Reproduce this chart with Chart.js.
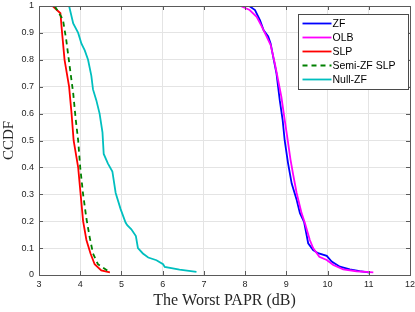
<!DOCTYPE html>
<html>
<head>
<meta charset="utf-8">
<script src="https://cdn.jsdelivr.net/npm/chart.js@4.4.1/dist/chart.umd.min.js"></script>
<style>
  html, body { margin: 0; padding: 0; background: #ffffff; }
  #wrap { width: 415px; height: 312px; }
</style>
</head>
<body>
<div id="wrap"><canvas id="grafico"></canvas></div>
<script>
// series (x = worst PAPR in dB, y = CCDF)
const zfX = [8.10, 8.24, 8.36, 8.45, 8.56, 8.62, 8.68, 8.76, 8.84, 8.91, 8.96, 9.04, 9.13, 9.25, 9.33, 9.43, 9.53, 9.65, 9.77, 9.98, 10.10, 10.30, 10.54, 10.78, 11.03];
const zfY = [1.0, 0.985, 0.948, 0.91, 0.887, 0.86, 0.812, 0.75, 0.65, 0.577, 0.50, 0.417, 0.34, 0.28, 0.23, 0.198, 0.118, 0.093, 0.081, 0.071, 0.05, 0.031, 0.021, 0.014, 0.009];

const olbX = [7.89, 8.11, 8.28, 8.40, 8.52, 8.62, 8.72, 8.80, 8.88, 8.96, 9.02, 9.10, 9.16, 9.25, 9.37, 9.45, 9.57, 9.65, 9.80, 9.98, 10.14, 10.38, 10.70, 11.11];
const olbY = [1.0, 0.985, 0.96, 0.925, 0.887, 0.855, 0.787, 0.725, 0.662, 0.577, 0.515, 0.43, 0.378, 0.305, 0.23, 0.193, 0.13, 0.10, 0.068, 0.056, 0.037, 0.021, 0.014, 0.01];

const slpX = [3.33, 3.52, 3.56, 3.62, 3.73, 3.79, 3.84, 3.95, 4.01, 4.07, 4.15, 4.25, 4.35, 4.51, 4.72];
const slpY = [1.0, 0.973, 0.90, 0.80, 0.70, 0.60, 0.50, 0.40, 0.30, 0.20, 0.13, 0.08, 0.04, 0.017, 0.01];

const semiX = [3.38, 3.58, 3.66, 3.745, 3.83, 3.89, 3.95, 4.00, 4.07, 4.15, 4.23, 4.31, 4.43, 4.67];
const semiY = [1.0, 0.95, 0.875, 0.775, 0.675, 0.58, 0.50, 0.40, 0.30, 0.21, 0.14, 0.08, 0.04, 0.015];

const nullX = [3.73, 3.83, 3.95, 4.03, 4.11, 4.19, 4.27, 4.31, 4.39, 4.47, 4.54, 4.57, 4.67, 4.78, 4.86, 4.98, 5.10, 5.14, 5.24, 5.35, 5.40, 5.52, 5.65, 5.85, 6.01, 6.05, 6.41, 6.82];
const nullY = [1.0, 0.935, 0.90, 0.86, 0.835, 0.80, 0.74, 0.69, 0.65, 0.60, 0.53, 0.45, 0.415, 0.385, 0.305, 0.245, 0.195, 0.185, 0.17, 0.145, 0.10, 0.08, 0.065, 0.055, 0.04, 0.03, 0.02, 0.012];

const seriesNames = ['ZF', 'OLB', 'SLP', 'Semi-ZF SLP', 'Null-ZF'];
const seriesColors = ['#0000ff', '#ff00ff', '#ff0000', '#008000', '#00bfbf'];
const xTicks = [3, 4, 5, 6, 7, 8, 9, 10, 11, 12];
const yTicks = [0, 0.1, 0.2, 0.3, 0.4, 0.5, 0.6, 0.7, 0.8, 0.9, 1];

function pares(xs, ys) {
  return xs.map((x, i) => ({ x: x, y: ys[i] }));
}

const allX = [zfX, olbX, slpX, semiX, nullX];
const allY = [zfY, olbY, slpY, semiY, nullY];

const datasets = seriesNames.map((nome, i) => ({
  label: nome,
  data: pares(allX[i], allY[i]),
  borderColor: seriesColors[i],
  backgroundColor: seriesColors[i],
  borderWidth: 1.8,
  borderDash: nome === 'Semi-ZF SLP' ? [5, 4] : [],
  pointRadius: 0,
  tension: 0,
  fill: false,
  order: 5 - i
}));

// box, inward ticks and legend, MATLAB style
const molduraPlugin = {
  id: 'moldura',
  afterDraw(chart) {
    const ctx = chart.ctx;
    const a = chart.chartArea;
    const sx = chart.scales.x;
    const sy = chart.scales.y;
    ctx.save();
    ctx.strokeStyle = '#5a5a5a';
    ctx.lineWidth = 1;
    ctx.beginPath();
    xTicks.forEach(v => {
      const px = Math.round(sx.getPixelForValue(v)) + 0.5;
      ctx.moveTo(px, a.bottom); ctx.lineTo(px, a.bottom - 4);
      ctx.moveTo(px, a.top); ctx.lineTo(px, a.top + 4);
    });
    yTicks.forEach(v => {
      const py = Math.round(sy.getPixelForValue(v)) + 0.5;
      ctx.moveTo(a.left, py); ctx.lineTo(a.left + 4, py);
      ctx.moveTo(a.right, py); ctx.lineTo(a.right - 4, py);
    });
    ctx.stroke();
    ctx.strokeRect(Math.round(a.left) + 0.5, Math.round(a.top) + 0.5,
      Math.round(a.right - a.left), Math.round(a.bottom - a.top));

    // legend
    const lw = 110, lh = 75;
    const lx = Math.round(a.right - 2 - lw) + 0.5;
    const ly = Math.round(a.top + 8) + 0.5;
    ctx.fillStyle = '#ffffff';
    ctx.fillRect(lx, ly, lw, lh);
    ctx.strokeStyle = '#4a4a4a';
    ctx.setLineDash([]);
    ctx.strokeRect(lx, ly, lw, lh);
    ctx.font = "10.5px 'Liberation Sans', Arial, sans-serif";
    ctx.textBaseline = 'middle';
    ctx.textAlign = 'left';
    chart.data.datasets.forEach((ds, i) => {
      const yy = ly + 9 + i * 14;
      ctx.strokeStyle = ds.borderColor;
      ctx.lineWidth = 1.8;
      ctx.setLineDash(ds.borderDash);
      ctx.beginPath();
      ctx.moveTo(lx + 4, yy);
      ctx.lineTo(lx + 33, yy);
      ctx.stroke();
      ctx.setLineDash([]);
      ctx.fillStyle = '#000000';
      ctx.fillText(ds.label, lx + 34, yy + 0.5);
    });
    ctx.restore();
  }
};

const fonteEixo = { size: 9, family: "'Liberation Sans', Arial, sans-serif" };

new Chart(document.getElementById('grafico'), {
  type: 'line',
  data: { datasets: datasets },
  plugins: [molduraPlugin],
  options: {
    responsive: true,
    maintainAspectRatio: false,
    animation: false,
    events: [],
    layout: { padding: { top: 6, right: 5, left: 0, bottom: 0 } },
    plugins: {
      legend: { display: false },
      tooltip: { enabled: false }
    },
    scales: {
      x: {
        type: 'linear',
        min: 3,
        max: 12,
        afterFit: s => { s.height = 37; s.paddingLeft = 0; s.paddingRight = 0; },
        afterBuildTicks: s => { s.ticks = xTicks.map(v => ({ value: v })); },
        ticks: { font: fonteEixo, color: '#262626', padding: 4, maxRotation: 0 },
        grid: { color: '#e4e4e4', drawTicks: false },
        border: { display: false },
        title: {
          display: true,
          text: 'The Worst PAPR (dB)',
          color: '#262626',
          font: { size: 16, family: "'Liberation Serif', 'Times New Roman', serif" },
          padding: { top: 0, bottom: 2 }
        }
      },
      y: {
        type: 'linear',
        min: 0,
        max: 1,
        afterFit: s => { s.width = 39; s.paddingTop = 0; s.paddingBottom = 0; },
        afterBuildTicks: s => { s.ticks = yTicks.map(v => ({ value: v })); },
        ticks: {
          font: fonteEixo,
          color: '#262626',
          padding: 5,
          callback: v => String(+v.toFixed(1))
        },
        grid: { color: '#e4e4e4', drawTicks: false },
        border: { display: false },
        title: {
          display: true,
          text: 'CCDF',
          color: '#262626',
          font: { size: 15, family: "'Liberation Serif', 'Times New Roman', serif" },
          padding: { top: 0, bottom: 0 }
        }
      }
    }
  }
});
</script>
</body>
</html>
